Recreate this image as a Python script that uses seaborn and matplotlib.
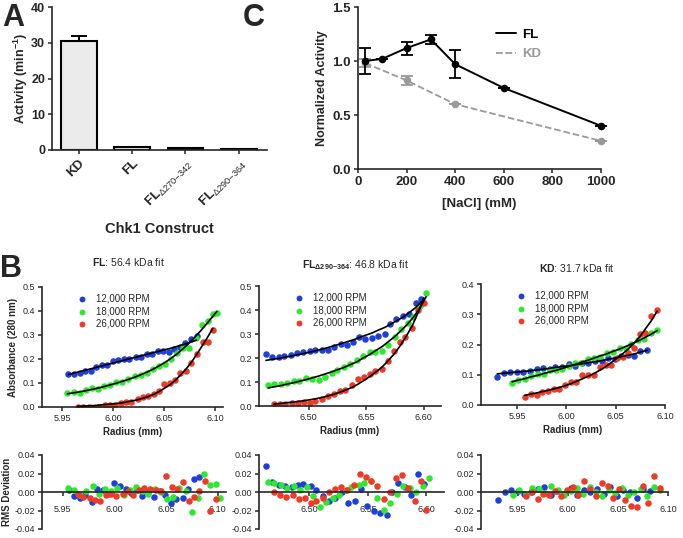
import numpy as np
import pandas as pd
import seaborn as sns
import matplotlib
import matplotlib.pyplot as plt
from matplotlib.lines import Line2D

sns.set_style('ticks')
matplotlib.rcParams['font.family'] = ['Liberation Sans', 'DejaVu Sans']
matplotlib.rcParams['mathtext.fontset'] = 'custom'
matplotlib.rcParams['mathtext.rm'] = 'Liberation Sans'
matplotlib.rcParams['mathtext.it'] = 'Liberation Sans:italic'
matplotlib.rcParams['mathtext.bf'] = 'Liberation Sans:bold'
matplotlib.rcParams['axes.unicode_minus'] = False
matplotlib.rcParams['axes.linewidth'] = 1.2

# ---- panel A: activity per construct
constructs = ['KD', 'FL', 'FL$_{\\Delta270{-}342}$', 'FL$_{\\Delta290{-}364}$']
activity = [30.5, 0.8, 0.6, 0.2]
activity_err = [1.5, 0.0, 0.0, 0.0]

# ---- panel C: salt dependence
nacl_fl = [30, 100, 200, 300, 400, 600, 1000]
act_fl = [1.00, 1.02, 1.12, 1.20, 0.97, 0.75, 0.40]
err_fl = [0.12, 0.0, 0.06, 0.04, 0.13, 0.0, 0.0]
nacl_kd = [30, 200, 400, 1000]
act_kd = [0.98, 0.82, 0.60, 0.26]
err_kd = [0.04, 0.04, 0.0, 0.0]

# ---- panel B: sedimentation equilibrium (radius, fit, residual)
speeds = ['12,000 RPM', '18,000 RPM', '26,000 RPM']

fl_r12 = [5.956, 5.961, 5.967, 5.972, 5.978, 5.983, 5.989, 5.994, 6.000, 6.005, 6.011, 6.016,
          6.022, 6.027, 6.033, 6.038, 6.044, 6.049, 6.055, 6.060, 6.066, 6.071, 6.077, 6.082]
fl_fit12 = [0.135, 0.141, 0.147, 0.153, 0.159, 0.165, 0.171, 0.177, 0.183, 0.189, 0.195, 0.201,
            0.207, 0.213, 0.219, 0.225, 0.231, 0.237, 0.243, 0.249, 0.256, 0.263, 0.271, 0.279]
fl_res12 = [0.002, -0.004, -0.006, -0.003, -0.011, 0.003, 0.002, -0.002, 0.010, 0.007, 0.003, -0.001,
            0.002, -0.004, 0.000, -0.005, 0.001, -0.003, -0.012, -0.008, -0.006, 0.003, 0.014, 0.016]
fl_r18 = [5.955, 5.961, 5.967, 5.973, 5.979, 5.985, 5.991, 5.997, 6.003, 6.009, 6.015, 6.021, 6.027,
          6.033, 6.039, 6.045, 6.051, 6.057, 6.063, 6.069, 6.075, 6.081, 6.087, 6.093, 6.098, 6.102]
fl_fit18 = [0.055, 0.059, 0.063, 0.068, 0.073, 0.079, 0.085, 0.092, 0.099, 0.107, 0.115, 0.124, 0.134,
            0.145, 0.157, 0.171, 0.186, 0.203, 0.222, 0.244, 0.268, 0.294, 0.322, 0.352, 0.378, 0.398]
fl_res18 = [0.004, 0.002, -0.003, 0.001, 0.006, -0.002, 0.003, 0.001, 0.004, -0.003, 0.002, 0.005, 0.001,
            -0.002, 0.003, 0.000, -0.008, -0.005, 0.004, 0.001, -0.022, -0.006, 0.020, 0.008, 0.009, -0.007]
fl_r26 = [5.965, 5.970, 5.976, 5.981, 5.986, 5.992, 5.997, 6.002, 6.008, 6.013, 6.018, 6.024, 6.029,
          6.034, 6.040, 6.045, 6.050, 6.056, 6.061, 6.066, 6.072, 6.077, 6.082, 6.088, 6.093, 6.098]
fl_fit26 = [0.003, 0.004, 0.005, 0.006, 0.008, 0.010, 0.012, 0.014, 0.017, 0.021, 0.025, 0.030, 0.036,
            0.043, 0.053, 0.064, 0.077, 0.093, 0.111, 0.132, 0.160, 0.187, 0.218, 0.258, 0.292, 0.328]
fl_res26 = [-0.002, -0.005, -0.007, -0.009, -0.010, -0.003, -0.002, -0.004, -0.002, 0.001, -0.003, 0.002, 0.004,
            0.003, 0.002, 0.001, 0.017, 0.005, 0.003, 0.011, -0.010, -0.005, 0.001, 0.012, -0.021, -0.008]

dl_r12 = [6.463, 6.468, 6.474, 6.479, 6.485, 6.490, 6.495, 6.501, 6.506, 6.512, 6.517, 6.522, 6.528,
          6.533, 6.539, 6.544, 6.549, 6.555, 6.560, 6.566, 6.571, 6.576, 6.582, 6.587, 6.593, 6.598]
dl_fit12 = [0.190, 0.194, 0.198, 0.203, 0.208, 0.213, 0.218, 0.224, 0.230, 0.237, 0.244, 0.251, 0.259,
            0.267, 0.276, 0.285, 0.294, 0.304, 0.315, 0.327, 0.340, 0.354, 0.370, 0.388, 0.410, 0.435]
dl_res12 = [0.028, 0.011, 0.008, 0.006, 0.005, 0.008, 0.009, 0.006, 0.002, -0.004, -0.010, -0.006, 0.000,
            -0.012, -0.010, 0.003, -0.015, -0.021, -0.023, -0.025, 0.000, 0.010, 0.005, -0.003, 0.019, 0.009]
dl_r18 = [6.465, 6.470, 6.476, 6.481, 6.487, 6.492, 6.498, 6.503, 6.509, 6.514, 6.520, 6.525, 6.531,
          6.536, 6.542, 6.547, 6.553, 6.558, 6.564, 6.569, 6.575, 6.580, 6.586, 6.591, 6.597, 6.602]
dl_fit18 = [0.075, 0.080, 0.085, 0.091, 0.097, 0.103, 0.110, 0.117, 0.125, 0.133, 0.142, 0.151, 0.161,
            0.172, 0.184, 0.199, 0.214, 0.230, 0.248, 0.267, 0.290, 0.313, 0.341, 0.370, 0.410, 0.455]
dl_res18 = [0.011, 0.010, 0.008, 0.004, 0.006, 0.002, 0.005, -0.004, -0.016, -0.011, -0.006, -0.003, 0.002,
            0.005, 0.008, 0.010, 0.012, -0.006, -0.019, -0.012, -0.002, 0.006, 0.004, 0.000, 0.006, 0.015]
dl_r26 = [6.470, 6.475, 6.480, 6.486, 6.491, 6.496, 6.501, 6.506, 6.512, 6.517, 6.522, 6.527, 6.532,
          6.538, 6.543, 6.548, 6.553, 6.558, 6.564, 6.569, 6.574, 6.579, 6.584, 6.590, 6.595, 6.600]
dl_fit26 = [0.008, 0.010, 0.013, 0.016, 0.019, 0.022, 0.026, 0.030, 0.036, 0.042, 0.049, 0.057, 0.066,
            0.078, 0.091, 0.106, 0.122, 0.140, 0.163, 0.188, 0.215, 0.247, 0.284, 0.334, 0.388, 0.450]
dl_res26 = [0.000, -0.003, -0.005, -0.003, -0.008, -0.006, -0.012, -0.010, -0.006, 0.000, 0.003, 0.005, 0.002,
            0.008, 0.020, 0.016, 0.012, 0.006, -0.008, 0.000, 0.015, 0.018, 0.004, -0.010, 0.012, -0.019]

kd_r12 = [5.930, 5.937, 5.943, 5.950, 5.956, 5.963, 5.970, 5.976, 5.983, 5.989, 5.996, 6.003,
          6.009, 6.016, 6.022, 6.029, 6.036, 6.042, 6.049, 6.055, 6.062, 6.069, 6.075, 6.082]
kd_fit12 = [0.103, 0.105, 0.107, 0.109, 0.111, 0.113, 0.116, 0.118, 0.121, 0.124, 0.127, 0.130,
            0.133, 0.136, 0.140, 0.143, 0.147, 0.151, 0.155, 0.159, 0.164, 0.169, 0.175, 0.181]
kd_res12 = [-0.009, 0.000, 0.002, 0.001, -0.002, 0.000, 0.003, 0.005, -0.003, 0.001, -0.002, 0.004,
            -0.003, 0.002, 0.000, 0.003, -0.002, 0.005, -0.004, 0.002, 0.000, -0.006, 0.003, 0.001]
kd_r18 = [5.945, 5.951, 5.958, 5.964, 5.971, 5.977, 5.983, 5.990, 5.996, 6.003, 6.009, 6.015,
          6.022, 6.028, 6.034, 6.041, 6.047, 6.054, 6.060, 6.066, 6.073, 6.079, 6.086, 6.092]
kd_fit18 = [0.077, 0.082, 0.087, 0.093, 0.098, 0.104, 0.109, 0.115, 0.121, 0.128, 0.134, 0.141,
            0.148, 0.155, 0.162, 0.169, 0.177, 0.185, 0.193, 0.202, 0.212, 0.222, 0.234, 0.246]
kd_res18 = [-0.003, 0.002, -0.002, 0.004, 0.003, -0.001, 0.006, 0.002, -0.003, 0.001, 0.004, -0.002,
            0.005, 0.000, -0.004, 0.002, -0.001, 0.004, -0.003, 0.000, 0.003, -0.004, 0.005, 0.002]
kd_r26 = [5.958, 5.964, 5.970, 5.975, 5.981, 5.987, 5.993, 5.999, 6.005, 6.010, 6.016, 6.022,
          6.028, 6.034, 6.040, 6.045, 6.051, 6.057, 6.063, 6.069, 6.075, 6.080, 6.086, 6.092]
kd_fit26 = [0.032, 0.036, 0.040, 0.044, 0.048, 0.053, 0.058, 0.064, 0.071, 0.078, 0.086, 0.095,
            0.104, 0.115, 0.127, 0.139, 0.154, 0.169, 0.186, 0.206, 0.228, 0.251, 0.278, 0.310]
kd_res26 = [-0.004, 0.000, -0.008, -0.002, -0.003, 0.001, -0.004, 0.002, 0.005, -0.003, 0.012, 0.003,
            -0.004, 0.010, 0.006, -0.006, 0.003, -0.009, -0.015, -0.016, 0.006, -0.012, 0.017, 0.004]

speed_colors = ['#1f3fd8', '#2ee82e', '#ee3a26']

fig = plt.figure(figsize=(6.83, 5.38), dpi=100)


def px_axes(left, top, right, bottom):
    W, H = 683.0, 538.0
    return fig.add_axes([left / W, 1 - bottom / H, (right - left) / W, (bottom - top) / H])


def style(ax, size):
    sns.despine(ax=ax)
    ax.tick_params(direction='out', length=3, width=1.1, labelsize=size, pad=2)


# ---------------- A
axA = px_axes(52, 7, 267, 150)
sns.barplot(x=constructs, y=activity, color='#ebebeb', saturation=1, edgecolor='black',
            linewidth=1.5, width=0.67, ax=axA)
axA.errorbar([0], [activity[0]], yerr=[[0], [activity_err[0]]], fmt='none', ecolor='black',
             elinewidth=1.4, capsize=6, capthick=1.4)
axA.set_xlim(-0.5, 3.53)
axA.set_ylim(0, 40)
axA.set_yticks([0, 10, 20, 30, 40])
style(axA, 9)
axA.tick_params(axis='x', labelsize=9.5)
for lab in axA.get_xticklabels() + axA.get_yticklabels():
    lab.set_fontweight('bold')
plt.setp(axA.get_xticklabels(), rotation=45, ha='right', rotation_mode='anchor')
axA.set_ylabel('Activity (min$^{\\mathbf{-1}}$)', fontsize=9, fontweight='bold', labelpad=1)
axA.set_xlabel('Chk1 Construct', fontsize=10.5, fontweight='bold', labelpad=8)

# ---------------- C
axC = px_axes(358, 7, 601, 169)
sns.lineplot(x=nacl_kd, y=act_kd, color='#999999', linestyle='--', linewidth=1.3,
             marker='o', markersize=5.5, markeredgewidth=0, ax=axC)
axC.errorbar(nacl_kd, act_kd, yerr=err_kd, fmt='none', ecolor='#999999', elinewidth=1.3,
             capsize=4, capthick=1.3)
sns.lineplot(x=nacl_fl, y=act_fl, color='black', linewidth=1.4,
             marker='o', markersize=5.5, markeredgewidth=0, ax=axC)
axC.errorbar(nacl_fl, act_fl, yerr=err_fl, fmt='none', ecolor='black', elinewidth=1.3,
             capsize=4, capthick=1.3)
for ln in axC.lines:
    ln.set_clip_on(False)
axC.set_xlim(0, 1000)
axC.set_ylim(0, 1.5)
axC.set_xticks([0, 200, 400, 600, 800, 1000])
axC.set_yticks([0.0, 0.5, 1.0, 1.5])
axC.yaxis.set_major_formatter(matplotlib.ticker.FormatStrFormatter('%.1f'))
style(axC, 9.5)
for lab in axC.get_xticklabels() + axC.get_yticklabels():
    lab.set_fontweight('bold')
axC.set_ylabel('Normalized Activity', fontsize=9, fontweight='bold', labelpad=3)
axC.set_xlabel('[NaCl] (mM)', fontsize=9.5, fontweight='bold', labelpad=7)
handles = [Line2D([], [], color='black', lw=1.4),
           Line2D([], [], color='#999999', lw=1.3, ls='--')]
leg = axC.legend(handles, ['FL', 'KD'], loc='upper left', bbox_to_anchor=(0.52, 0.94),
                 frameon=False, handlelength=1.5, handletextpad=0.5, fontsize=9.5, labelspacing=0.55)
for txt, col in zip(leg.get_texts(), ['black', '#999999']):
    txt.set_color(col)
    txt.set_fontweight('bold')

# ---------------- B
panels = [
    dict(box=(42, 287, 223, 407), xlim=(5.930, 6.108), ylim=(0, 0.5), yt=[0, 0.1, 0.2, 0.3, 0.4, 0.5],
         xt=[5.95, 6.00, 6.05, 6.10],
         runs=[(fl_r12, fl_fit12, fl_res12), (fl_r18, fl_fit18, fl_res18), (fl_r26, fl_fit26, fl_res26)]),
    dict(box=(259, 286, 441, 406), xlim=(6.457, 6.615), ylim=(0, 0.5), yt=[0, 0.1, 0.2, 0.3, 0.4, 0.5],
         xt=[6.50, 6.55, 6.60],
         runs=[(dl_r12, dl_fit12, dl_res12), (dl_r18, dl_fit18, dl_res18), (dl_r26, dl_fit26, dl_res26)]),
    dict(box=(481, 284, 665, 405), xlim=(5.9135, 6.10), ylim=(0, 0.4), yt=[0, 0.1, 0.2, 0.3, 0.4],
         xt=[5.95, 6.00, 6.05, 6.10],
         runs=[(kd_r12, kd_fit12, kd_res12), (kd_r18, kd_fit18, kd_res18), (kd_r26, kd_fit26, kd_res26)]),
]

for i, p in enumerate(panels):
    l, t, r, b = p['box']
    ax = px_axes(l, t, r, b)
    axr = px_axes(l, 455, r + 3, 529)
    for (rad, fit, res), col, name in zip(p['runs'], speed_colors, speeds):
        obs = np.array(fit) + np.array(res)
        sns.scatterplot(x=rad, y=obs, color=col, s=22, linewidth=0, label=name, ax=ax, zorder=2)
        sns.scatterplot(x=rad, y=res, color=col, s=22, linewidth=0, ax=axr, zorder=2)
    for rad, fit, res in p['runs']:
        sns.lineplot(x=rad, y=fit, color='black', linewidth=1.2, ax=ax, zorder=3)
    ax.set_xlim(*p['xlim'])
    ax.set_ylim(*p['ylim'])
    ax.set_xticks(p['xt'])
    ax.set_yticks(p['yt'])
    ax.xaxis.set_major_formatter(matplotlib.ticker.FormatStrFormatter('%.2f'))
    ax.yaxis.set_major_formatter(matplotlib.ticker.FormatStrFormatter('%.1f'))
    style(ax, 6.5)
    ax.set_xlabel('Radius (mm)', fontsize=7, fontweight='bold', labelpad=3)
    ax.set_ylabel('Absorbance (280 nm)' if i == 0 else '', fontsize=7, fontweight='bold', labelpad=3)
    ax.legend(loc='upper left', bbox_to_anchor=(0.13, 1.0), frameon=False, fontsize=7,
              handletextpad=0.4, labelspacing=0.25, borderpad=0.2, markerscale=0.9)

    axr.set_xlim(*p['xlim'])
    axr.set_ylim(-0.04, 0.04)
    axr.set_xticks(p['xt'])
    axr.set_yticks([-0.04, -0.02, 0.0, 0.02, 0.04])
    axr.xaxis.set_major_formatter(matplotlib.ticker.FormatStrFormatter('%.2f'))
    axr.yaxis.set_major_formatter(matplotlib.ticker.FormatStrFormatter('%.2f'))
    style(axr, 6.5)
    axr.spines['bottom'].set_position(('data', 0))
    axr.tick_params(axis='x', pad=6)
    axr.set_ylabel('RMS Deviation' if i == 0 else '', fontsize=7, fontweight='bold', labelpad=2)

# titles of B panels
fig.text(128 / 683, 1 - 262 / 538, '$\\mathbf{FL}$: 56.4 kDa fit', fontsize=7.5, ha='center', va='center')
fig.text(355 / 683, 1 - 265 / 538, '$\\mathbf{FL_{\\Delta290{-}364}}$: 46.8 kDa fit', fontsize=7.5,
         ha='center', va='center')
fig.text(577 / 683, 1 - 268 / 538, '$\\mathbf{KD}$: 31.7 kDa fit', fontsize=7.5, ha='center', va='center')

# panel letters
fig.text(2 / 683, 1 - 3 / 538, 'A', fontsize=22, fontweight='bold', va='top')
fig.text(0 / 683, 1 - 254 / 538, 'B', fontsize=22, fontweight='bold', va='top')
fig.text(243 / 683, 1 - 3 / 538, 'C', fontsize=22, fontweight='bold', va='top')

fig.savefig('out.png', dpi=100)
